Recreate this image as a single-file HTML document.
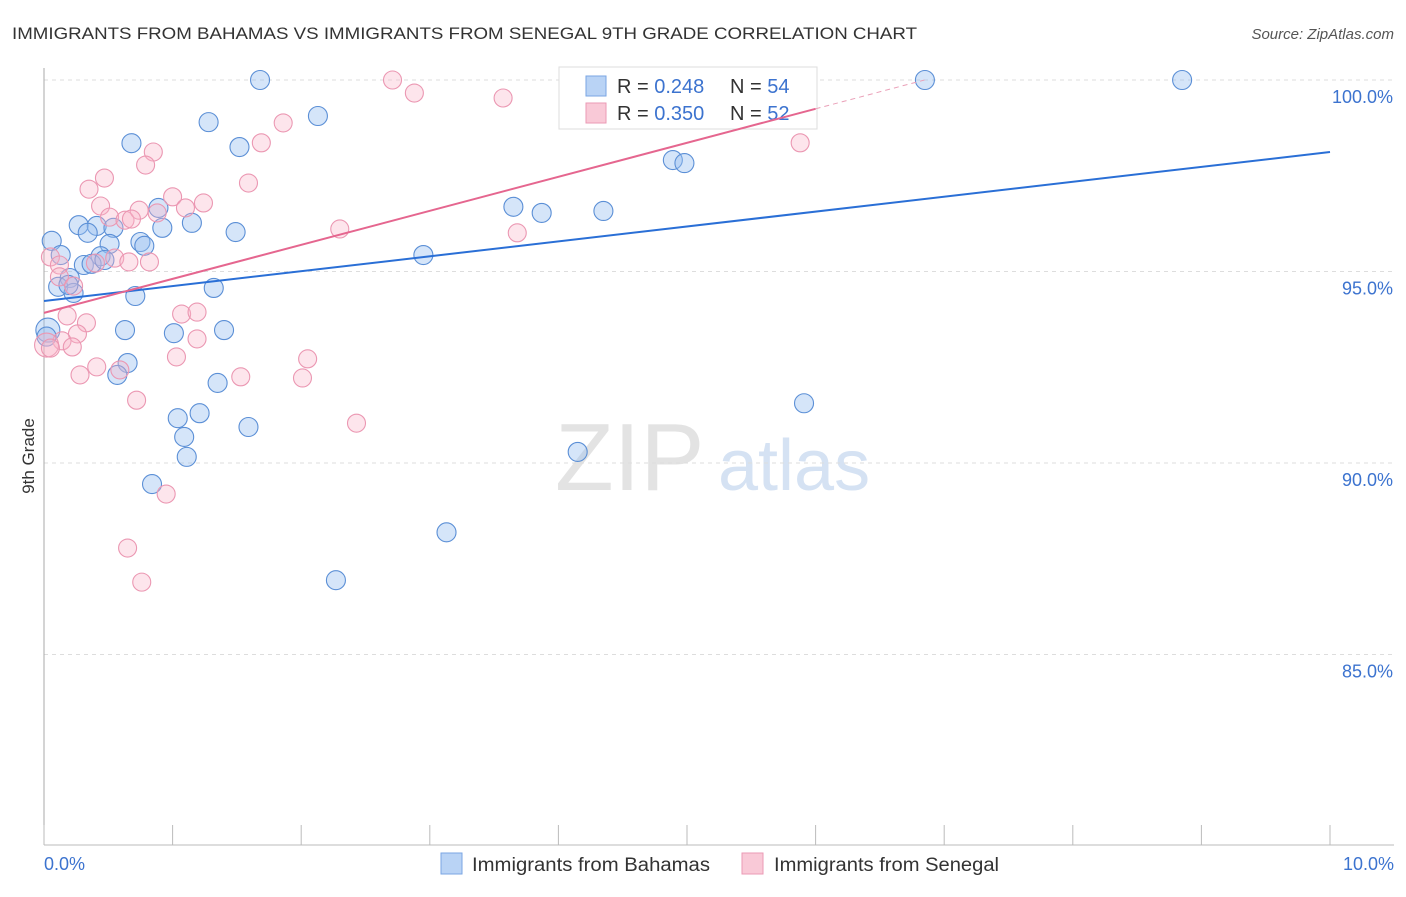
<!DOCTYPE html>
<html><head><meta charset="utf-8"><style>
body{margin:0;background:#fff;font-family:"Liberation Sans",sans-serif;}
svg text{font-family:"Liberation Sans",sans-serif;}
</style></head><body>
<svg id="chart" width="1406" height="892" xmlns="http://www.w3.org/2000/svg">
<text x="12" y="39" font-size="17" fill="#333" textLength="905" lengthAdjust="spacingAndGlyphs">IMMIGRANTS FROM BAHAMAS VS IMMIGRANTS FROM SENEGAL 9TH GRADE CORRELATION CHART</text>
<text x="1394" y="39" font-size="15" fill="#555" text-anchor="end" font-style="italic">Source: ZipAtlas.com</text>
<text x="555" y="490" font-size="96" fill="#e3e3e3" font-family="Liberation Serif">ZIP</text>
<text x="718" y="490" font-size="72" fill="#d5e2f3">atlas</text>
<g id="grid"></g>
<g id="axes"></g>
<g id="pts"></g>
<g>
<rect x="559" y="67" width="258" height="62" fill="#fff" stroke="#ddd"/>
<rect x="586" y="76" width="20" height="20" fill="#b9d3f5" stroke="#7aa6e3"/>
<rect x="586" y="103" width="20" height="20" fill="#f9c9d7" stroke="#eb9ab4"/>
<text x="617" y="93" font-size="20" fill="#333">R = <tspan fill="#3c73cf">0.248</tspan></text>
<text x="730" y="93" font-size="20" fill="#333">N = <tspan fill="#3c73cf">54</tspan></text>
<text x="617" y="120" font-size="20" fill="#333">R = <tspan fill="#3c73cf">0.350</tspan></text>
<text x="730" y="120" font-size="20" fill="#333">N = <tspan fill="#3c73cf">52</tspan></text>
</g>
<g id="lines"></g>
<text x="34" y="456" font-size="17" fill="#333" transform="rotate(-90 34 456)" text-anchor="middle">9th Grade</text>
<g>
<rect x="441" y="853" width="21" height="21" fill="#b9d3f5" stroke="#7aa6e3"/>
<text x="472" y="871" font-size="19" fill="#333" textLength="238" lengthAdjust="spacingAndGlyphs">Immigrants from Bahamas</text>
<rect x="742" y="853" width="21" height="21" fill="#f9c9d7" stroke="#eb9ab4"/>
<text x="774" y="871" font-size="19" fill="#333" textLength="225" lengthAdjust="spacingAndGlyphs">Immigrants from Senegal</text>
</g>
</svg>
<script>
const xTicks=[0,1,2,3,4,5,6,7,8,9,10];
const yTicks=[85,90,95,100];
const yTickLabels=["85.0%","90.0%","95.0%","100.0%"];
const xEndLabels=["0.0%","10.0%"];
const bahamasX=[1.68,1.28,2.13,0.68,1.52,4.89,4.98,3.65,3.87,4.35,0.89,0.27,0.41,0.34,0.54,0.92,1.15,1.49,0.06,0.51,0.75,0.78,0.13,0.44,0.31,0.37,0.47,2.95,0.20,0.11,0.23,0.19,0.71,1.32,0.03,0.63,1.01,1.40,0.65,0.57,1.35,1.04,1.21,1.09,1.59,1.11,5.91,4.15,0.84,3.13,2.27,6.85,8.85,0.02];
const bahamasY=[100.0,98.90,99.06,98.35,98.25,97.91,97.83,96.69,96.53,96.58,96.66,96.21,96.19,96.01,96.14,96.14,96.27,96.03,95.80,95.72,95.77,95.67,95.43,95.40,95.17,95.20,95.30,95.43,94.83,94.60,94.44,94.65,94.36,94.57,93.47,93.47,93.39,93.47,92.61,92.30,92.09,91.17,91.30,90.68,90.94,90.16,91.56,90.29,89.45,88.19,86.94,100.0,100.0,93.3];
const senegalX=[2.71,2.88,3.57,1.86,1.69,0.85,0.79,5.88,0.35,0.47,1.59,1.00,1.24,0.44,1.10,0.51,0.88,0.63,0.74,2.30,3.68,0.05,0.12,0.55,0.66,0.82,0.40,0.18,0.33,1.07,1.19,0.26,0.14,0.22,1.19,1.03,0.41,0.28,0.59,1.53,2.05,2.01,2.43,0.72,0.95,0.65,0.76,0.02,0.12,0.05,0.68,0.23];
const senegalY=[100.0,99.66,99.53,98.88,98.36,98.12,97.78,98.36,97.15,97.44,97.31,96.95,96.79,96.71,96.66,96.42,96.53,96.34,96.60,96.11,96.01,95.38,95.17,95.35,95.25,95.25,95.22,93.84,93.66,93.89,93.94,93.37,93.19,93.03,93.24,92.77,92.51,92.30,92.43,92.25,92.72,92.22,91.04,91.64,89.19,87.78,86.89,93.08,94.86,93.0,96.37,94.62];
const bahamasTrend=[94.23,98.12];
const senegalTrend=[93.92,0.888];
const X=v=>44+v*128.6, Y=v=>80+(100-v)*38.3;
const NS="http://www.w3.org/2000/svg";
function mk(p,t,a){const e=document.createElementNS(NS,t);for(const k in a)e.setAttribute(k,a[k]);p.appendChild(e);return e;}
const grid=document.getElementById('grid'),axes=document.getElementById('axes'),pts=document.getElementById('pts'),lines=document.getElementById('lines');
yTicks.forEach((t,i)=>{
 const l=mk(grid,'line',{x1:44,x2:1394,y1:Y(t),y2:Y(t),stroke:'#ddd','stroke-dasharray':'4 4'});
 
 
 const tx=mk(axes,'text',{x:1393,y:Y(t)+23,'font-size':18,fill:'#3c73cf','text-anchor':'end'});tx.textContent=yTickLabels[i];
 
 
});
const ya=mk(axes,'line',{x1:44,x2:44,y1:68,y2:845,stroke:'#aaa'});


const xa=mk(axes,'line',{x1:44,x2:1394,y1:845,y2:845,stroke:'#bbb'});


xTicks.forEach(t=>{const l=mk(axes,'line',{x1:X(t),x2:X(t),y1:825,y2:845,stroke:'#bbb'});
 
 });
[[0,'start',44],[10,'end',1394]].forEach((d,i)=>{const t=mk(axes,'text',{x:d[2],y:870,'font-size':18,fill:'#3c73cf','text-anchor':d[1]});t.textContent=xEndLabels[i];
 
 });
bahamasX.forEach((x,i)=>{const c=mk(pts,'circle',{cx:X(x),cy:Y(bahamasY[i]),r:i==34?12:9.5,fill:'rgba(150,190,240,0.4)',stroke:'#5b8fd6','stroke-width':1.1});
 
 });
senegalX.forEach((x,i)=>{const c=mk(pts,'circle',{cx:X(x),cy:Y(senegalY[i]),r:i==47?12:9,fill:'rgba(248,180,200,0.35)',stroke:'#eb97b2','stroke-width':1.1});
 
 });
const bl=mk(lines,'line',{x1:X(0),y1:Y(bahamasTrend[0]),x2:X(10),y2:Y(bahamasTrend[1]),stroke:'#2a6fd6','stroke-width':2});


const sEnd=(100-senegalTrend[0])/senegalTrend[1], sSolid=6.0;
const sl=mk(lines,'line',{x1:X(0),y1:Y(senegalTrend[0]),x2:X(sSolid),y2:Y(senegalTrend[0]+senegalTrend[1]*sSolid),stroke:'#e5668f','stroke-width':2});


const sd=mk(lines,'line',{x1:X(sSolid),y1:Y(senegalTrend[0]+senegalTrend[1]*sSolid),x2:X(sEnd),y2:Y(100),stroke:'#eaa0b8','stroke-width':1,'stroke-dasharray':'5 4'});


</script>
</body></html>
